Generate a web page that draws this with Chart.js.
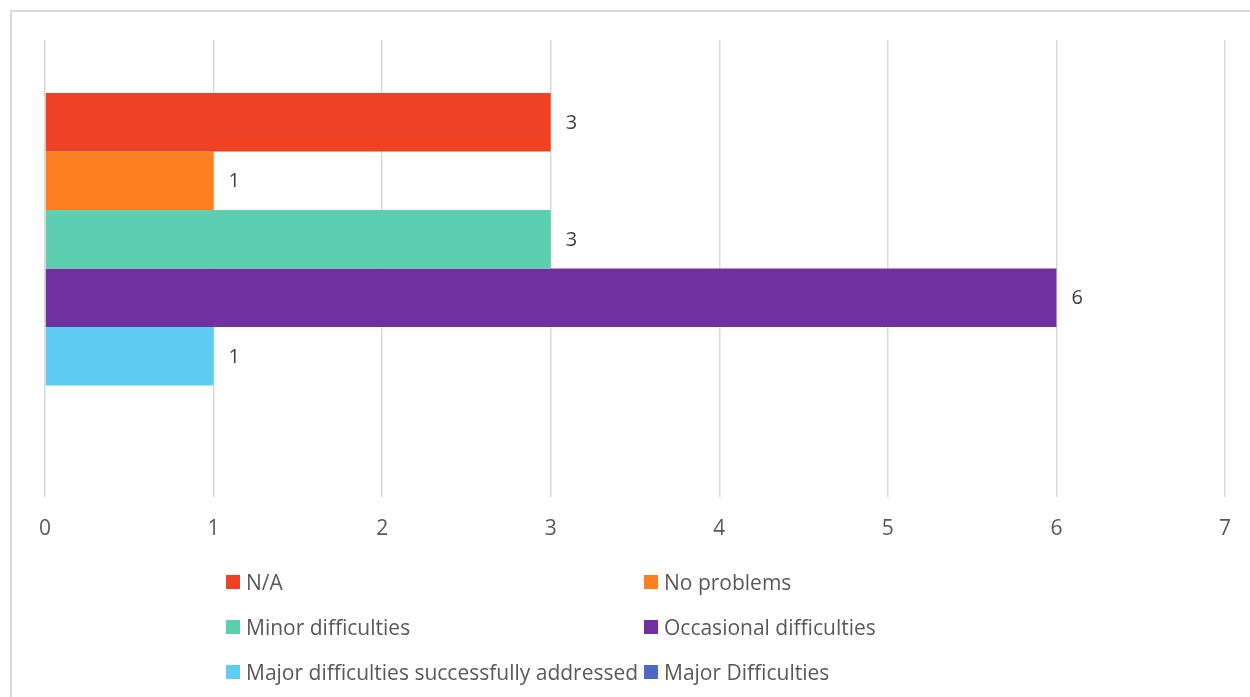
<!DOCTYPE html>
<html>
<head>
<meta charset="utf-8">
<script src="https://cdn.jsdelivr.net/npm/chart.js@4.4.1/dist/chart.umd.min.js"></script>
<style>
  html, body { margin: 0; padding: 0; background: #fff; overflow: hidden; }
  #wrap { position: relative; width: 1250px; height: 697px; }
  #frame { position: absolute; left: 10px; top: 10px; width: 1260px; height: 720px;
           border-left: 2px solid #d9d9d9; border-top: 2px solid #d9d9d9; box-sizing: border-box; }
  #chart { position: absolute; left: 0; top: 0; }
  #legend { position: absolute; left: 0; top: 0; width: 1250px; height: 697px; pointer-events: none;
            font-family: "Open Sans", Lato, sans-serif; font-size: 21px; color: #595959; }
  .item { position: absolute; display: flex; align-items: center; white-space: nowrap; height: 28px; }
  .box { width: 14px; height: 14px; margin-right: 6px; flex: none; }
</style>
</head>
<body>
<div id="wrap">
  <div id="frame"></div>
  <canvas id="chart" width="1250" height="697"></canvas>
  <div id="legend"></div>
</div>
<script>
// One (unnamed) category, one bar per response type
const categories = [''];
const seriesNames = [
  'N/A',
  'No problems',
  'Minor difficulties',
  'Occasional difficulties',
  'Major difficulties successfully addressed',
  'Major Difficulties'
];
const seriesValues = [3, 1, 3, 6, 1, null];
const seriesColors = ['#EF4123', '#FD7F20', '#5DCFB1', '#70309F', '#5ECCF3', '#4E67C8'];
const tickValues = [0, 1, 2, 3, 4, 5, 6, 7];

const FONT = '"Open Sans", Lato, sans-serif';

// Value labels to the right of each bar end
const valueLabels = {
  id: 'valueLabels',
  afterDatasetsDraw(chart) {
    const ctx = chart.ctx;
    ctx.save();
    ctx.font = '20px ' + FONT;
    ctx.fillStyle = '#404040';
    ctx.textAlign = 'left';
    ctx.textBaseline = 'middle';
    chart.data.datasets.forEach((ds, i) => {
      const meta = chart.getDatasetMeta(i);
      meta.data.forEach((bar, j) => {
        const v = ds.data[j];
        if (v === null || v === undefined) return;
        ctx.fillText(String(v), bar.x + 15, bar.y + 1);
      });
    });
    ctx.restore();
  }
};

const chart = new Chart(document.getElementById('chart'), {
  type: 'bar',
  data: {
    labels: categories,
    datasets: seriesNames.map((name, i) => ({
      label: name,
      data: [seriesValues[i]],
      backgroundColor: seriesColors[i],
      borderWidth: 0,
      barPercentage: 1.0,
      categoryPercentage: 0.768
    }))
  },
  options: {
    indexAxis: 'y',
    responsive: false,
    animation: false,
    layout: { padding: { left: 45, right: 14, top: 40, bottom: 0 } },
    plugins: {
      legend: { display: false },
      tooltip: { enabled: false }
    },
    scales: {
      x: {
        min: 0,
        max: 7,
        afterBuildTicks(scale) { scale.ticks = tickValues.map(v => ({ value: v })); },
        afterFit(scale) { scale.height = 200; },
        grid: { color: '#d9d9d9', lineWidth: 1.5, drawTicks: false },
        border: { display: false },
        ticks: { padding: 19, color: '#595959', font: { family: FONT, size: 21 } }
      },
      y: {
        display: false
      }
    }
  },
  plugins: [valueLabels]
});

// Two-column legend built from the datasets
const legend = document.getElementById('legend');
const colX = [226, 644];
const rowY = [582, 627, 672];
chart.data.datasets.forEach((ds, i) => {
  const el = document.createElement('div');
  el.className = 'item';
  el.style.left = colX[i % 2] + 'px';
  el.style.top = (rowY[Math.floor(i / 2)] - 14) + 'px';
  const box = document.createElement('span');
  box.className = 'box';
  box.style.background = ds.backgroundColor;
  const txt = document.createElement('span');
  txt.textContent = ds.label;
  el.appendChild(box);
  el.appendChild(txt);
  legend.appendChild(el);
});
</script>
</body>
</html>
